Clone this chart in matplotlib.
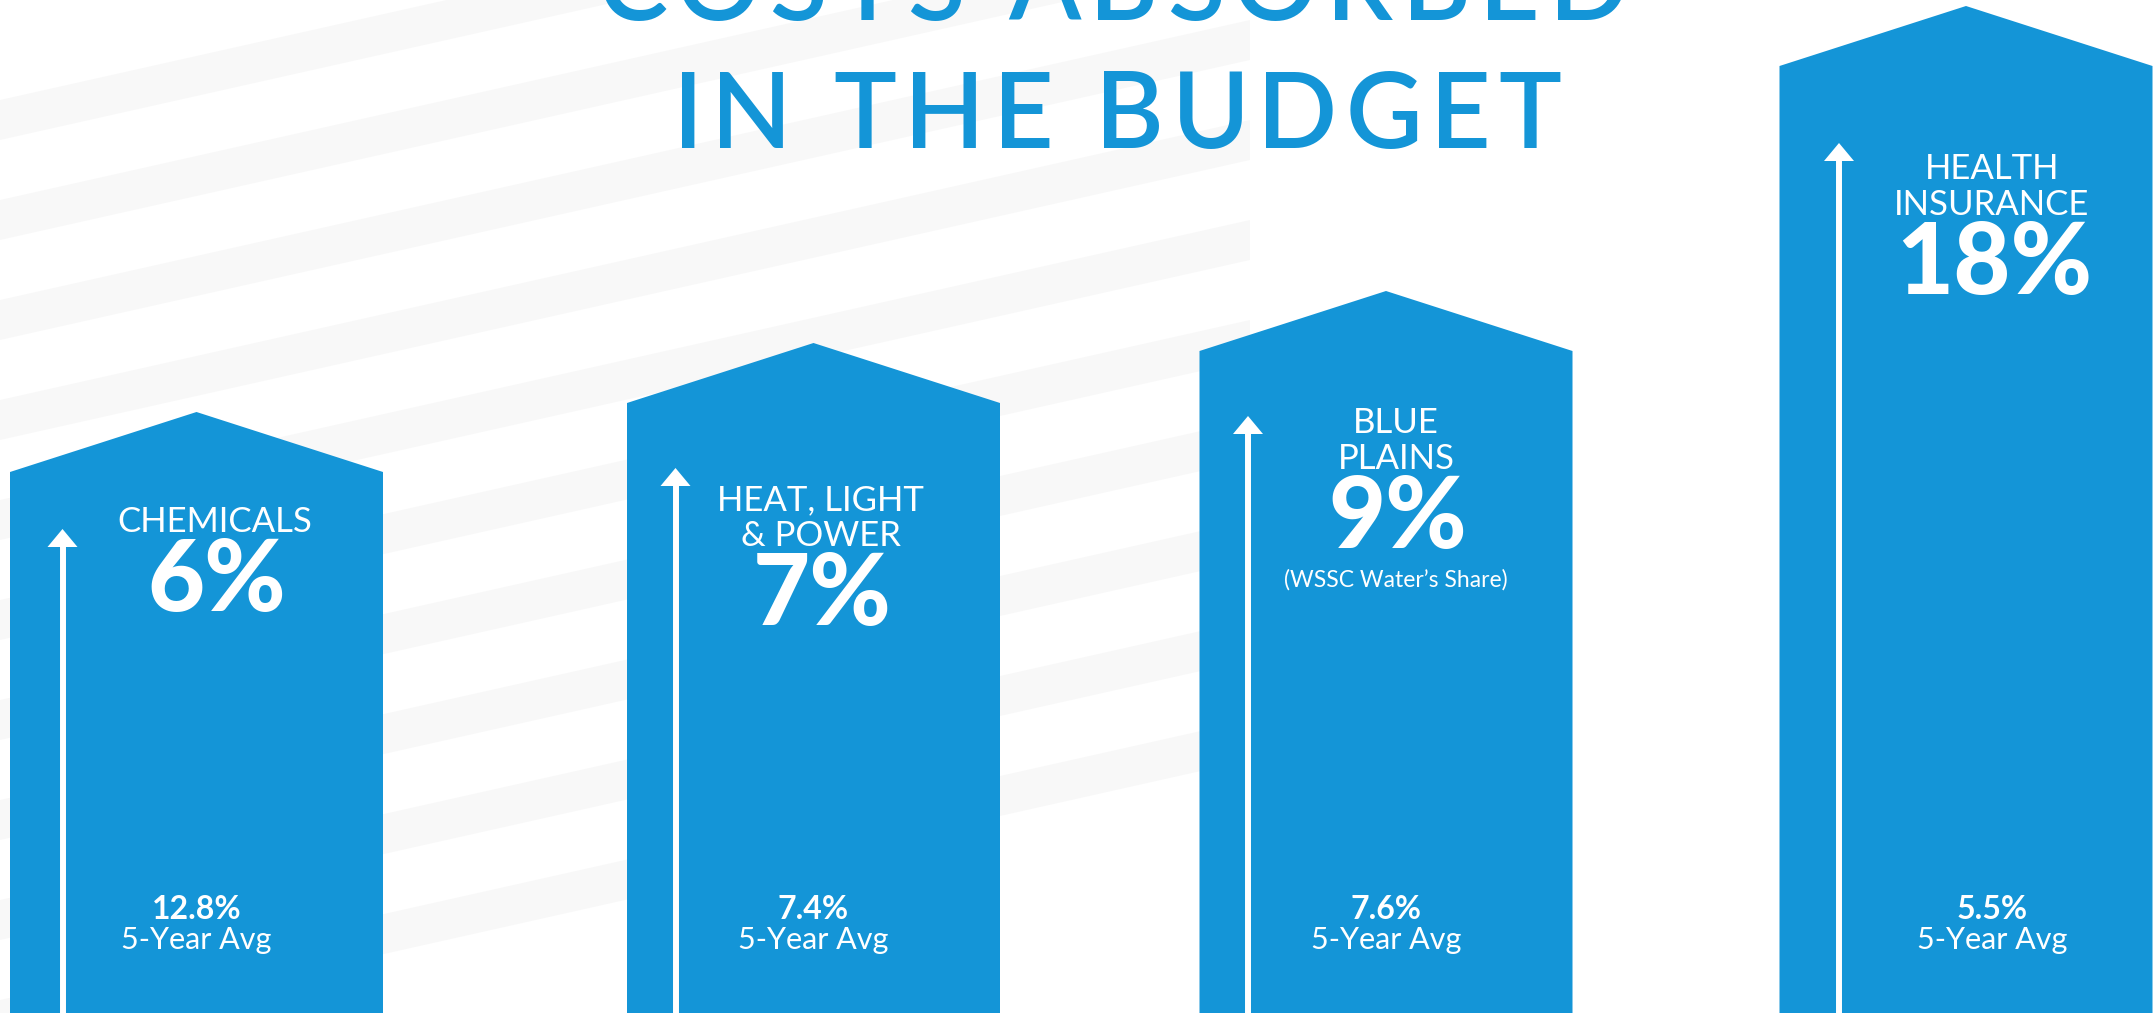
import numpy as np
import matplotlib
matplotlib.use('Agg')
import matplotlib.pyplot as plt
from matplotlib.font_manager import FontProperties

title_lines = ['COSTS ABSORBED', 'IN THE BUDGET']
categories = [['CHEMICALS'], ['HEAT, LIGHT', '& POWER'], ['BLUE', 'PLAINS'], ['HEALTH', 'INSURANCE']]
increase = ['6%', '7%', '9%', '18%']
notes = ['', '', '(WSSC Water\u2019s Share)', '']
five_year_avg = ['12.8%', '7.4%', '7.6%', '5.5%']
bar_top = [541, 610, 662, 947]      # shoulder height of each arrow bar (chart units)

# ---- layout ----
W, H = 2154, 1013
BLUE = '#1495d7'
bar_cx = [196.5, 813.5, 1386, 1966]
bar_w = 373
roof = 60
text_dx = [18, 7, 10, 26]
arrow_dx = [-134, -138, -138, -127]
arrow_gap = [57, 65, 65, 77]
label_top = [532, 510, 433, 179]    # baseline of first label line, px from top

fig = plt.figure(figsize=(W / 100, H / 100), dpi=100)
ax = fig.add_axes([0, 0, 1, 1])
ax.set_xlim(0, W)
ax.set_ylim(0, H)
ax.axis('off')

# faint background texture (washed out photo of pipes)
for k in range(10):
    y0 = 90 + k * 100
    ax.fill([0, 1250, 1250, 0], [H - y0 - 50, H - y0 + 230, H - y0 + 270, H - y0 - 10],
            color='#ececec', alpha=0.35, lw=0, zorder=0)

light = dict(family='Lato', weight='normal')
heavy = dict(family='Lato', weight=900)

def tracked(s, x0, x1, y, prop, color):
    r = fig.canvas.get_renderer()
    def w(t):
        return r.get_text_width_height_descent(t, prop, ismath=False)[0]
    space = w('I I') - w('II')
    widths = [space if c == ' ' else w(c) for c in s]
    gap = ((x1 - x0) - sum(widths)) / (len(s) - 1)
    x = x0
    for c, cw in zip(s, widths):
        if c != ' ':
            ax.text(x, y, c, fontproperties=prop, color=color, ha='left', va='baseline', zorder=5)
        x += cw + gap

tprop = FontProperties(family='Lato', weight='semibold', size=76)
tracked(title_lines[0], 597, 1629, H - 20, tprop, BLUE)
tracked(title_lines[1], 673, 1561, H - 148, tprop, BLUE)

for i in range(len(categories)):
    cx = bar_cx[i]
    top = bar_top[i]
    xs = [cx - bar_w / 2, cx - bar_w / 2, cx, cx + bar_w / 2, cx + bar_w / 2]
    ys = [0, top, top + roof, top, 0]
    ax.fill(xs, ys, color=BLUE, lw=0, zorder=2)

    # white arrow
    axx = cx + arrow_dx[i]
    tip = top - arrow_gap[i]
    ax.plot([axx, axx], [0, tip - 15], color='white', lw=4.3, solid_capstyle='butt', zorder=3)
    ax.fill([axx - 15, axx, axx + 15], [tip - 18, tip, tip - 18], color='white', lw=0, zorder=3)

    tx = cx + text_dx[i]
    y = H - label_top[i]
    for j, line in enumerate(categories[i]):
        ax.text(tx, y - 36 * j, line, color='white', fontsize=25, ha='center', va='baseline', zorder=4, **light)
    y = y - 36 * (len(categories[i]) - 1) - 79
    ax.text(tx + 2, y, increase[i], color='white', fontsize=71, ha='center', va='baseline', zorder=4, **heavy)
    if notes[i]:
        ax.text(tx, y - 39, notes[i], color='white', fontsize=16.5, ha='center', va='baseline', zorder=4, **light)

    bx = cx + (26 if i == 3 else 0)
    ax.text(bx, H - 919, five_year_avg[i], color='white', fontsize=23, ha='center', va='baseline',
            zorder=4, family='Lato', weight='bold')
    ax.text(bx, H - 949, '5-Year Avg', color='white', fontsize=22, ha='center', va='baseline', zorder=4, **light)

fig.savefig('out.png', dpi=100, facecolor='white')
